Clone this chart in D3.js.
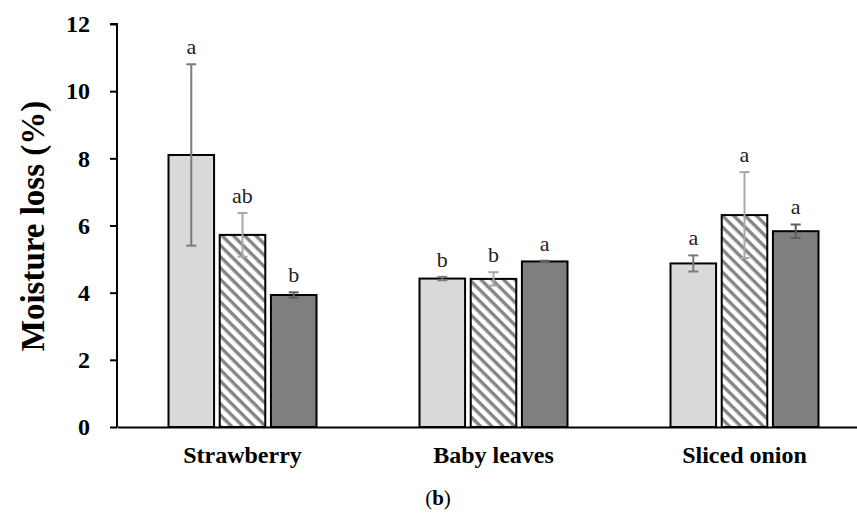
<!DOCTYPE html>
<html>
<head>
<meta charset="utf-8">
<script src="https://cdn.jsdelivr.net/npm/d3@7/dist/d3.min.js"></script>
<style>
  html, body { margin: 0; padding: 0; background: #fff; }
  svg { display: block; }
</style>
</head>
<body>
<svg id="chart" width="857" height="518"></svg>
<script>
// Moisture loss (%) per product, three treatments
const categories = ["Strawberry", "Baby leaves", "Sliced onion"];
const seriesNames = ["T1", "T2", "T3"];
const valuesT1 = [8.10, 4.42, 4.87];
const valuesT2 = [5.72, 4.41, 6.31];
const valuesT3 = [3.93, 4.93, 5.83];
const errorsT1 = [2.70, 0.05, 0.24];
const errorsT2 = [0.65, 0.20, 1.28];
const errorsT3 = [0.08, 0.02, 0.20];
const lettersT1 = ["a", "b", "a"];
const lettersT2 = ["ab", "b", "a"];
const lettersT3 = ["b", "a", "a"];
const yTicks = [0, 2, 4, 6, 8, 10, 12];

const seriesValues = [valuesT1, valuesT2, valuesT3];
const seriesErrors = [errorsT1, errorsT2, errorsT3];
const seriesLetters = [lettersT1, lettersT2, lettersT3];

const svg = d3.select("#chart");
const plot = { left: 117, top: 24, bottom: 427 };
const groupStep = 251;

const x0 = d3.scaleBand()
  .domain(categories)
  .range([plot.left, plot.left + groupStep * categories.length])
  .paddingInner(0).paddingOuter(0);

const x1 = d3.scaleBand()
  .domain(seriesNames)
  .range([x0.bandwidth() / 2 - 74, x0.bandwidth() / 2 + 74])
  .paddingInner(0.11).paddingOuter(0);

const y = d3.scaleLinear().domain([0, 12]).range([plot.bottom, plot.top]);

// diagonal hatch for the second treatment
const defs = svg.append("defs");
const pat = defs.append("pattern")
  .attr("id", "hatch")
  .attr("patternUnits", "userSpaceOnUse")
  .attr("width", 8).attr("height", 8)
  .attr("patternTransform", "rotate(45)");
pat.append("rect").attr("width", 8).attr("height", 8).attr("fill", "#fff");
pat.append("rect").attr("x", 0).attr("y", 0).attr("width", 8).attr("height", 3.4).attr("fill", "#858585");

const fills = ["#d9d9d9", "url(#hatch)", "#7f7f7f"];
const errColors = ["#7a7a7a", "#a8a8a8", "#5e5e5e"];

const rows = [];
categories.forEach((c, i) => {
  seriesNames.forEach((s, j) => {
    rows.push({
      cat: c, ser: s, j: j,
      value: seriesValues[j][i],
      err: seriesErrors[j][i],
      letter: seriesLetters[j][i]
    });
  });
});

const serif = "'Liberation Serif', 'Times New Roman', serif";

// bars
svg.append("g").selectAll("rect")
  .data(rows).join("rect")
  .attr("x", d => x0(d.cat) + x1(d.ser))
  .attr("y", d => y(d.value))
  .attr("width", x1.bandwidth())
  .attr("height", d => y(0) - y(d.value))
  .attr("fill", d => fills[d.j])
  .attr("stroke", "#000")
  .attr("stroke-width", 2);

// error bars
const eb = svg.append("g").selectAll("g").data(rows).join("g")
  .attr("stroke", d => errColors[d.j])
  .attr("stroke-width", 2)
  .attr("transform", d => `translate(${x0(d.cat) + x1(d.ser) + x1.bandwidth() / 2},0)`);
eb.append("line")
  .attr("x1", 0).attr("x2", 0)
  .attr("y1", d => y(d.value + d.err))
  .attr("y2", d => y(d.value - d.err));
eb.append("line")
  .attr("x1", -5).attr("x2", 5)
  .attr("y1", d => y(d.value + d.err)).attr("y2", d => y(d.value + d.err));
eb.append("line")
  .attr("x1", -5).attr("x2", 5)
  .attr("y1", d => y(d.value - d.err)).attr("y2", d => y(d.value - d.err));

// significance letters
svg.append("g").selectAll("text")
  .data(rows).join("text")
  .attr("x", d => x0(d.cat) + x1(d.ser) + x1.bandwidth() / 2)
  .attr("y", d => y(d.value + d.err) - 10)
  .attr("text-anchor", "middle")
  .attr("font-family", serif)
  .attr("font-size", 22)
  .attr("fill", "#222")
  .text(d => d.letter);

// y axis
const yAxis = svg.append("g")
  .attr("transform", `translate(${plot.left},0)`)
  .call(d3.axisLeft(y).tickValues(yTicks).tickSize(7).tickPadding(20).tickFormat(d3.format("d")));
yAxis.select(".domain").attr("stroke", "#000").attr("stroke-width", 2)
  .attr("d", `M-7,${y(12)}H0V${y(0)}`);
yAxis.selectAll(".tick line").attr("stroke", "#000").attr("stroke-width", 2);
yAxis.selectAll(".tick text")
  .attr("font-family", serif).attr("font-weight", "bold")
  .attr("font-size", 24).attr("fill", "#000");

// x axis
const xAxis = svg.append("g")
  .attr("transform", `translate(0,${plot.bottom})`)
  .call(d3.axisBottom(x0).tickSize(0).tickPadding(19));
xAxis.select(".domain").attr("stroke", "#000").attr("stroke-width", 2);
xAxis.selectAll(".tick text")
  .attr("font-family", serif).attr("font-weight", "bold")
  .attr("font-size", 24).attr("fill", "#000");

// axis title
svg.append("text")
  .attr("transform", `translate(44,226) rotate(-90)`)
  .attr("text-anchor", "middle")
  .attr("font-family", serif).attr("font-weight", "bold")
  .attr("font-size", 33).attr("fill", "#000")
  .text("Moisture loss (%)");

// panel tag
const tag = svg.append("text")
  .attr("x", 438).attr("y", 505)
  .attr("text-anchor", "middle")
  .attr("font-family", serif)
  .attr("font-size", 21).attr("fill", "#000");
tag.append("tspan").text("(");
tag.append("tspan").attr("font-weight", "bold").text("b");
tag.append("tspan").text(")");
</script>
</body>
</html>
